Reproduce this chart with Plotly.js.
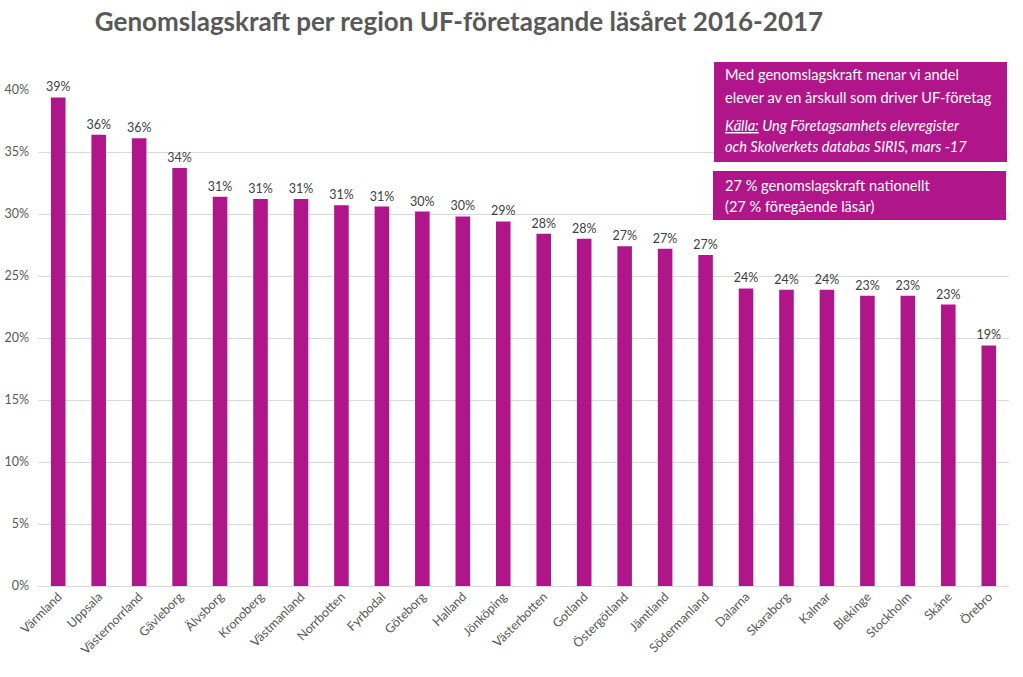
<!DOCTYPE html>
<html>
<head>
<meta charset="utf-8">
<script src="https://cdn.plot.ly/plotly-3.0.1.min.js"></script>
<style>html,body{margin:0;padding:0;background:#fff;}#chart{width:1023px;height:677px;}</style>
</head>
<body>
<div id="chart"></div>
<script>
const regions = ["Värmland","Uppsala","Västernorrland","Gävleborg","Älvsborg","Kronoberg","Västmanland","Norrbotten","Fyrbodal","Göteborg","Halland","Jönköping","Västerbotten","Gotland","Östergötland","Jämtland","Södermanland","Dalarna","Skaraborg","Kalmar","Blekinge","Stockholm","Skåne","Örebro"];
const share = [0.394,0.364,0.361,0.337,0.314,0.312,0.312,0.307,0.306,0.302,0.298,0.294,0.284,0.280,0.274,0.272,0.267,0.240,0.239,0.239,0.234,0.234,0.227,0.194];
const yTicks = [0,0.05,0.10,0.15,0.20,0.25,0.30,0.35,0.40];

const W = 1023, H = 677;
const L = 38, R = 14, T = 90, B = 91;
const pw = W - L - R, ph = H - T - B;
const px = x => (x - L) / pw;
const py = y => (H - B - y) / ph;

const purple = '#B0168A';
const fontFam = 'Lato, "Open Sans", sans-serif';

const trace = {
  type: 'bar',
  x: regions,
  y: share,
  marker: {color: purple},
  texttemplate: '%{y:.0%}',
  textposition: 'outside',
  constraintext: 'none',
  textfont: {family: fontFam, size: 12.5, color: '#404040'},
  cliponaxis: false,
  hoverinfo: 'x+y'
};

const shapes = [
  {type:'rect', xref:'paper', yref:'paper', x0:px(714), x1:px(1007), y0:py(162), y1:py(62), fillcolor:purple, line:{width:0}, layer:'above'},
  {type:'rect', xref:'paper', yref:'paper', x0:px(713), x1:px(1006), y0:py(220), y1:py(171), fillcolor:purple, line:{width:0}, layer:'above'}
];

const lines = [
  ['Med genomslagskraft menar vi andel', 75],
  ['elever av en årskull som driver UF-företag', 97],
  ['<i><u>Källa:</u> Ung Företagsamhets elevregister</i>', 125],
  ['<i>och Skolverkets databas SIRIS, mars -17</i>', 147],
  ['27 % genomslagskraft nationellt', 185],
  ['(27 % föregående läsår)', 206]
];
const annotations = lines.map(l => ({
  text: l[0], xref:'paper', yref:'paper', x: px(723), y: py(l[1]),
  xanchor:'left', yanchor:'middle', showarrow:false, align:'left',
  font:{family: fontFam, size: 14.6, color:'#ffffff'}
}));

const layout = {
  width: W, height: H,
  margin: {l: L, r: R, t: T, b: B},
  paper_bgcolor: '#ffffff',
  plot_bgcolor: '#ffffff',
  title: {
    text: '<b>Genomslagskraft per region UF-företagande läsåret 2016-2017</b>',
    x: 459/W, xref: 'container', xanchor: 'center',
    y: 1 - 22/H, yref: 'container', yanchor: 'middle',
    font: {family: fontFam, size: 26, color: '#595959'}
  },
  bargap: 0.64,
  xaxis: {
    tickangle: -45,
    tickfont: {family: fontFam, size: 12.5, color: '#595959'},
    showgrid: false, zeroline: false, showline: false,
    ticks: '', automargin: false
  },
  yaxis: {
    range: [0, 0.40],
    tickvals: yTicks,
    tickformat: '.0%',
    tickfont: {family: fontFam, size: 12.5, color: '#595959'},
    gridcolor: '#D9D9D9', gridwidth: 1,
    zeroline: true, zerolinecolor: '#D9D9D9', zerolinewidth: 1,
    showline: false, ticks: '', ticklabelstandoff: 8, automargin: false
  },
  shapes: shapes,
  annotations: annotations,
  showlegend: false
};

Plotly.newPlot('chart', [trace], layout, {displayModeBar: false, staticPlot: true});
</script>
</body>
</html>
